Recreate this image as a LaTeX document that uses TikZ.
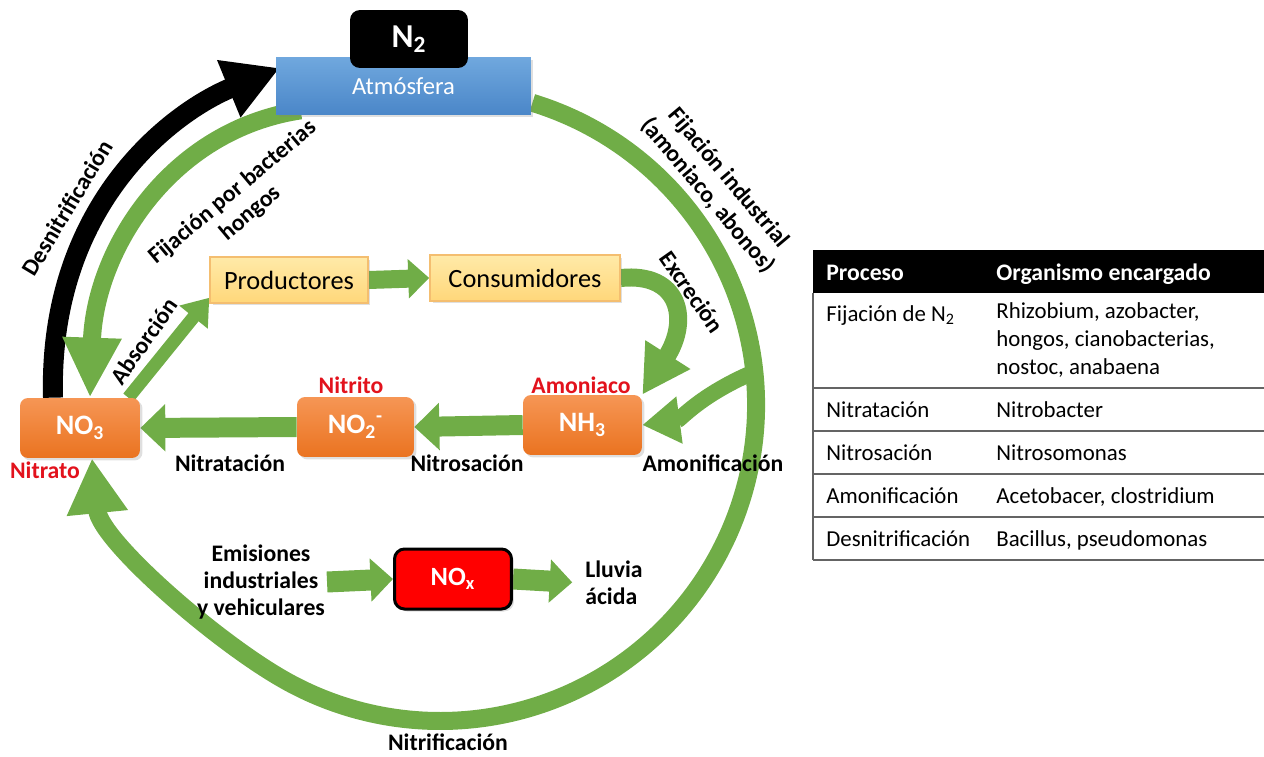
\documentclass[tikz,border=0pt]{standalone}
\usepackage{fontspec}
\setmainfont{Carlito}
\usetikzlibrary{arrows.meta,calc,backgrounds,shadows}

\definecolor{leaf}{RGB}{112,173,71}
\definecolor{skytop}{RGB}{112,168,222}
\definecolor{skybot}{RGB}{74,134,200}
\definecolor{orangetop}{RGB}{246,150,85}
\definecolor{orangebot}{RGB}{234,115,32}
\definecolor{creamtop}{RGB}{255,234,168}
\definecolor{creambot}{RGB}{255,215,122}
\definecolor{creamline}{RGB}{244,190,112}
\definecolor{alert}{RGB}{226,18,28}
\definecolor{rulegray}{RGB}{100,100,100}

\tikzset{
  softshadow/.style={drop shadow={opacity=0.25, shadow xshift=0.05cm, shadow yshift=-0.05cm}},
  chembox/.style={rounded corners=0.16cm, top color=orangetop, bottom color=orangebot, text=white,
    inner sep=0pt, minimum width=2.4cm, minimum height=1.2cm, font=\fontsize{16}{18}\selectfont\bfseries, softshadow},
  foodbox/.style={draw=creamline, line width=0.03cm, top color=creamtop, bottom color=creambot,
    inner sep=0pt, minimum height=0.92cm, font=\fontsize{15}{18}\selectfont, softshadow},
  lbl/.style={font=\fontsize{13.5}{15.5}\selectfont\bfseries, align=center, inner sep=1pt},
  redlbl/.style={lbl, text=alert},
  fat/.style={draw=leaf, line width=0.4cm, -{Triangle[width=0.92cm,length=0.5cm]}},
  cell/.style={anchor=base west, align=left, inner sep=0pt, font=\fontsize{13}{16}\selectfont},
}

\begin{document}
\begin{tikzpicture}[x=0.02cm, y=-0.02cm]
\useasboundingbox (0,0) rectangle (1264,757);

% atmosfera y N2
\node[top color=skytop, bottom color=skybot, minimum width=5.1cm, minimum height=1.16cm, inner sep=0pt,
  text=white, font=\fontsize{14}{16}\selectfont, softshadow] (atm) at (403.5,86) {Atmósfera};
\node[fill=black, rounded corners=0.2cm, minimum width=2.36cm, minimum height=1.16cm, inner sep=0pt,
  text=white, font=\fontsize{19}{20}\selectfont\bfseries] (n2) at (409,39) {N\textsubscript{2}};

% compuestos
\node[chembox] (no3) at (80,428) {NO\textsubscript{3}};
\node[chembox, minimum width=2.34cm] (no2) at (355.5,427) {NO\textsubscript{2}\textsuperscript{-}};
\node[chembox, minimum width=2.38cm] (nh3) at (582.5,425) {NH\textsubscript{3}};
\node[fill=red, draw=black, line width=0.06cm, rounded corners=0.2cm, minimum width=2.34cm, minimum height=1.2cm,
  inner sep=0pt, text=white, font=\fontsize{15}{17}\selectfont\bfseries, softshadow] (nox) at (453,579) {NO\textsubscript{x}};

\node[foodbox, minimum width=3.16cm] (prod) at (289,280) {Productores};
\node[foodbox, minimum width=3.8cm] (cons) at (525,278) {Consumidores};

\node[redlbl] (nitrato) at (45,470) {Nitrato};
\node[redlbl] (nitrito) at (351,385) {Nitrito};
\node[redlbl] (amoniaco) at (581,385) {Amoniaco};

\node[lbl] (emis) at (261,582) {Emisiones\\industriales\\y vehiculares};
\node[lbl, align=left] (rain) at (614,583) {Lluvia\\ácida};

% rotulos de procesos
\node[lbl] (lnitrat) at (230,463) {Nitratación};
\node[lbl] (lnitros) at (467,463) {Nitrosación};
\node[lbl] (lamon) at (713,463) {Amonificación};
\node[lbl] (lnitrif) at (448,742) {Nitrificación};
\node[lbl, rotate=59] (ldesn) at (67,208) {Desnitrificación};
\node[lbl, rotate=40] (lbact) at (242,203) {Fijación por bacterias\\hongos};
\node[lbl, rotate=-50] (lind) at (718,187) {Fijación industrial\\(amoniaco, abonos)};
\node[lbl, rotate=55] (labs) at (144,341) {Absorción};
\node[lbl, rotate=-55] (lexc) at (692,292) {Excreción};

\coordinate (ringc) at (440,405);
\coordinate (ringstart) at ($(ringc)+(-73:316)$);
\coordinate (amostart) at ($(ringc)+(-6:316)$);

\begin{scope}[on background layer]
  % gran ciclo
  \draw[draw=leaf, line width=0.36cm, -{Triangle[width=1.15cm,length=1.1cm]}]
    (ringstart) arc[start angle=-73, end angle=120, radius=316]
    .. controls (213,639) and (100,540) .. ([xshift=0.24cm]no3.south);
  \draw[draw=black, line width=0.4cm, -{Triangle[width=1.16cm,length=1.1cm]}]
    ([xshift=-0.54cm]no3.north) .. controls (48,205) and (172,112) .. ([xshift=0.08cm,yshift=0.36cm]atm.west);
  \draw[draw=leaf, line width=0.36cm, -{Triangle[width=1.1cm,length=1.2cm]}]
    ([xshift=0.5cm,yshift=0.1cm]atm.south west) .. controls (170,130) and (95,250) .. ([xshift=0.2cm]no3.north);
  \draw[fat, line width=0.26cm, -{Triangle[width=0.7cm,length=0.5cm]}]
    ([xshift=-0.24cm]no3.north east) -- ([yshift=0.12cm]prod.south west);
  \draw[fat, line width=0.36cm, -{Triangle[width=0.76cm,length=0.42cm]}] (prod.east) -- (cons.west);
  \draw[fat, line width=0.36cm, -{Triangle[width=1cm,length=0.95cm]}]
    (cons.east) .. controls (680,272) and (690,320) .. (nh3.north east);
  \draw[fat, line width=0.32cm, -{Triangle[width=0.9cm,length=0.75cm]}]
    (amostart) .. controls (700,395) and (680,420) .. (nh3.east);
  \draw[fat] (nh3.west) -- (no2.east);
  \draw[fat] (no2.west) -- (no3.east);
  \draw[fat, line width=0.42cm, -{Triangle[width=0.84cm,length=0.45cm]}] (emis.east) -- (nox.west);
  \draw[fat, line width=0.42cm, -{Triangle[width=0.84cm,length=0.45cm]}, shorten >=0.22cm] (nox.east) -- (rain.west);
\end{scope}

% tabla
\fill[black] (813,250) rectangle (1264,293);
\node[cell, text=white, font=\fontsize{13.5}{16}\selectfont\bfseries] (hproc) at (826,280) {Proceso};
\node[cell, text=white, font=\fontsize{13.5}{16}\selectfont\bfseries] (horg) at (996,280) {Organismo encargado};
\foreach \yy in {388,431,474,517,560}
  \draw[rulegray, line width=0.04cm] (813,\yy) -- (1264,\yy);
\draw[rulegray, line width=0.04cm] (813,293) -- (813,560);
\node[cell] (pfix) at (826,321) {Fijación de N\textsubscript{2}};
\node[cell, anchor=north west] (ofix) at (996,302) {Rhizobium, azobacter,\\hongos, cianobacterias,\\nostoc, anabaena};
\foreach \yy/\proc/\org in {409/Nitratación/Nitrobacter, 452/Nitrosación/Nitrosomonas,
    495/Amonificación/{Acetobacer, clostridium}, 538/Desnitrificación/{Bacillus, pseudomonas}}{
  \node[cell] (p\yy) at (826,\yy+8) {\proc};
  \node[cell] (o\yy) at (996,\yy+8) {\org};}
\end{tikzpicture}
\end{document}
